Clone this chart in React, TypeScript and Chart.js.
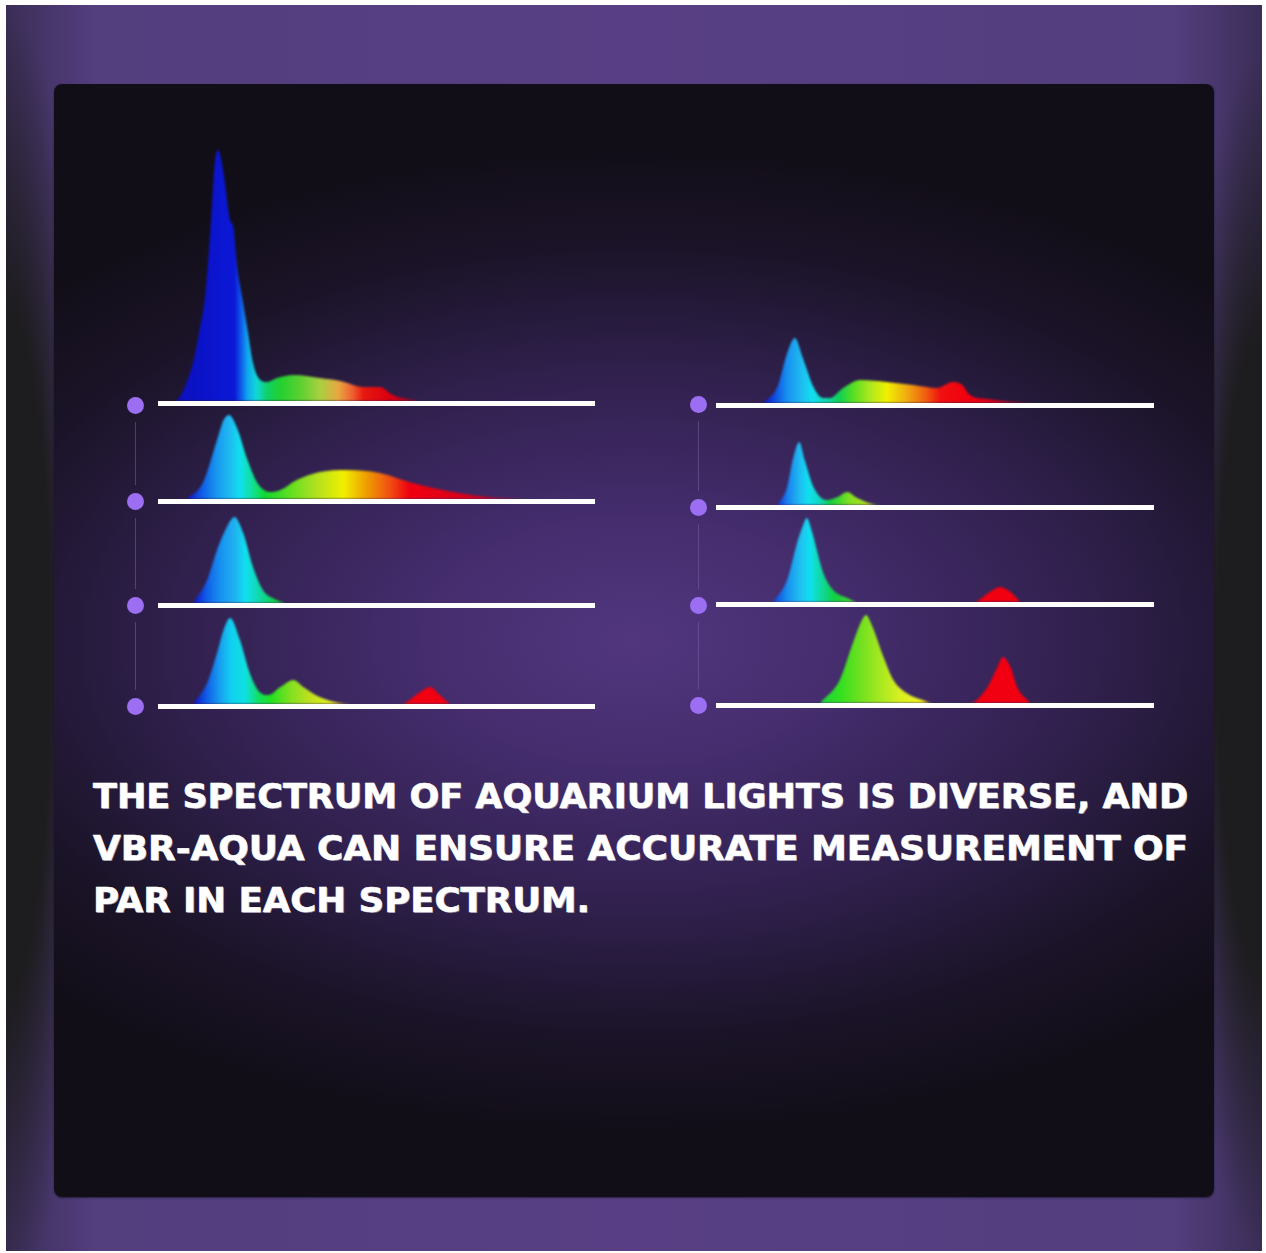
import React, { useEffect, useRef } from "react";
import { Chart, registerables } from "chart.js";

Chart.register(...registerables);

// ---------- DATA (wavelength nm, relative intensity with tallest peak = 100) ----------
const L1_WL = [396, 400, 406, 412, 418, 423, 428, 432, 435, 440, 446, 449, 452, 457, 462, 467, 472, 480, 489, 504, 528, 547, 568, 583, 595, 608, 620];
const L1_INT = [0, 1.6, 7.2, 15.1, 28.3, 41.4, 68.1, 94.8, 100, 90.8, 72.1, 69.3, 55.0, 41.4, 28.3, 15.1, 9.2, 7.6, 9.2, 10.4, 9.2, 8.0, 5.6, 5.6, 2.4, 0.8, 0];

const L2_WL = [406, 421, 434, 440, 445, 452, 462, 471, 483, 492, 507, 528, 553, 583, 613, 650, 681, 711];
const L2_INT = [0, 6.4, 23.5, 31.5, 33.5, 28.7, 15.5, 6.4, 2.8, 3.6, 7.6, 10.8, 11.6, 10.4, 6.4, 2.8, 0.8, 0];

const L3_WL = [412, 425, 434, 443, 450, 458, 467, 476, 489, 496];
const L3_INT = [0, 9.2, 21.1, 30.3, 34.3, 27.9, 14.3, 5.2, 1.2, 0];

const L4_WL = [412, 425, 434, 440, 446, 455, 464, 473, 481, 492, 504, 513, 528, 547, 559, 602, 620, 629, 638, 647];
const L4_INT = [0, 8.4, 20.3, 29.5, 34.3, 25.5, 12.4, 4.8, 3.6, 6.8, 9.6, 6.8, 2.8, 0.4, 0, 0, 4.8, 6.8, 3.6, 0];

const R1_WL = [423, 436, 445, 452, 459, 469, 478, 484, 496, 512, 536, 560, 582, 596, 605, 612, 628, 651, 667];
const R1_INT = [0, 6.4, 19.9, 25.9, 18.3, 6.4, 2.0, 2.0, 6.0, 9.2, 8.4, 7.2, 6.0, 8.4, 7.2, 3.2, 1.6, 0.4, 0];

const R2_WL = [436, 445, 450, 456, 461, 469, 481, 491, 500, 509, 523, 530];
const R2_INT = [0, 7.2, 17.9, 25.1, 17.9, 7.2, 2.0, 3.2, 5.2, 2.8, 0.4, 0];

const R3_WL = [432, 445, 454, 459, 463, 467, 478, 487, 500, 509, 615, 630, 639, 649, 658];
const R3_INT = [0, 8.8, 23.5, 30, 33.5, 29, 11.6, 4.8, 1.6, 0, 0, 4.0, 6.0, 4.0, 0];

const R4_WL = [475, 493, 505, 512, 517, 523, 533, 542, 554, 569, 578, 612, 628, 637, 642, 649, 655, 667];
const R4_INT = [0, 9.2, 23.9, 31.9, 35.1, 30.3, 18.3, 9.2, 4.0, 1.2, 0, 0, 6.4, 14.3, 18.3, 14.3, 6.4, 0];

const TEXT_LINES = [
  "THE SPECTRUM OF AQUARIUM LIGHTS IS DIVERSE, AND",
  "VBR-AQUA CAN ENSURE ACCURATE MEASUREMENT OF",
  "PAR IN EACH SPECTRUM.",
];

// ---------- STYLES ----------
type Stop = [number, string];
const G_L1: Stop[] = [[400, "#0c10c0"], [450, "#0b18d6"], [455, "#0e4ee8"], [462, "#10a8f0"], [470, "#10d8d8"], [480, "#10d068"], [492, "#22d030"], [510, "#5ad030"], [528, "#a8d040"], [545, "#e8a840"], [558, "#f06030"], [568, "#e81810"], [590, "#dc0010"], [615, "#b00020"]];
const G_L2: Stop[] = [[406, "#1010c8"], [421, "#1060e8"], [434, "#1898f0"], [445, "#20b8f0"], [455, "#10e0f0"], [469, "#10e080"], [478, "#10d830"], [501, "#60e020"], [524, "#b0e020"], [550, "#f0f000"], [570, "#f0a000"], [592, "#f05010"], [610, "#f00010"], [680, "#d00020"]];
const G_L3: Stop[] = [[412, "#1010c0"], [425, "#1060e8"], [437, "#1890f0"], [450, "#20b0f0"], [460, "#10e0f0"], [474, "#10d8a0"], [488, "#10d040"]];
const G_L4: Stop[] = [[412, "#1010c0"], [425, "#1060e8"], [437, "#18a0f0"], [447, "#10d0f0"], [460, "#10e0e0"], [472, "#10e060"], [483, "#20e020"], [501, "#80e020"], [519, "#c0e020"], [537, "#e0f020"], [580, "#f06010"], [605, "#f00010"], [650, "#f00010"]];
const G_R1: Stop[] = [[423, "#0c10c0"], [434, "#1050e0"], [445, "#1890f0"], [457, "#20b8f0"], [468, "#10e0f0"], [480, "#10d8b0"], [493, "#10d050"], [507, "#60e020"], [521, "#b0e820"], [536, "#f0f000"], [553, "#f0b010"], [571, "#f06010"], [585, "#f01010"], [610, "#f00010"], [650, "#d00020"]];
const G_R2: Stop[] = [[436, "#1030d0"], [445, "#1880f0"], [456, "#20b8f0"], [464, "#10e0f0"], [475, "#10d8c0"], [484, "#10d040"], [502, "#80e020"], [520, "#b8e020"]];
const G_R3: Stop[] = [[432, "#1040d8"], [445, "#1890f0"], [457, "#20c0f0"], [466, "#10e0f0"], [478, "#10d890"], [489, "#10d040"], [520, "#80e020"], [600, "#f00010"]];
const G_R4: Stop[] = [[475, "#20d040"], [493, "#30e020"], [512, "#70e020"], [530, "#a8e820"], [548, "#d8f020"], [566, "#f0f020"], [600, "#f00010"]];

const WL_MIN = 380;
const WL_MAX = 780;
const PX_PER_UNIT = 2.51;
const LINE_THICK = 5;

type Spec = { wl: number[]; val: number[]; stops: Stop[]; x: number; w: number; lineTop: number; plotH: number };

const SPECS: Spec[] = [
  { wl: L1_WL, val: L1_INT, stops: G_L1, x: 158, w: 437, lineTop: 401, plotH: 265 },
  { wl: L2_WL, val: L2_INT, stops: G_L2, x: 158, w: 437, lineTop: 499, plotH: 100 },
  { wl: L3_WL, val: L3_INT, stops: G_L3, x: 158, w: 437, lineTop: 603, plotH: 100 },
  { wl: L4_WL, val: L4_INT, stops: G_L4, x: 158, w: 437, lineTop: 704, plotH: 100 },
  { wl: R1_WL, val: R1_INT, stops: G_R1, x: 716, w: 438, lineTop: 403, plotH: 100 },
  { wl: R2_WL, val: R2_INT, stops: G_R2, x: 716, w: 438, lineTop: 505, plotH: 100 },
  { wl: R3_WL, val: R3_INT, stops: G_R3, x: 716, w: 438, lineTop: 602, plotH: 100 },
  { wl: R4_WL, val: R4_INT, stops: G_R4, x: 716, w: 438, lineTop: 703, plotH: 100 },
];

const DOTS_LEFT = { x: 135, ys: [405, 501, 605, 706] };
const DOTS_RIGHT = { x: 698, ys: [404, 507, 605, 705] };

const softBaselinePlugin = {
  id: "softBaseline",
  beforeDatasetsDraw(chart: any) {
    chart.ctx.save();
    chart.ctx.filter = "blur(0.9px)";
  },
  afterDatasetsDraw(chart: any) {
    const { ctx, chartArea, scales } = chart;
    ctx.restore();
    const x0 = scales.x.getPixelForValue(WL_MIN);
    const x1 = scales.x.getPixelForValue(WL_MAX);
    ctx.save();
    ctx.fillStyle = "#ffffff";
    ctx.fillRect(x0, chartArea.bottom, x1 - x0, LINE_THICK);
    ctx.restore();
  },
};

function SpectrumChart({ spec }: { spec: Spec }) {
  const ref = useRef<HTMLCanvasElement>(null);
  useEffect(() => {
    const canvas = ref.current!;
    const chart = new Chart(canvas, {
      type: "line",
      data: {
        datasets: [
          {
            data: spec.wl.map((x, i) => ({ x, y: spec.val[i] })),
            fill: "origin",
            borderWidth: 0,
            borderColor: "rgba(0,0,0,0)",
            pointRadius: 0,
            cubicInterpolationMode: "monotone",
            backgroundColor: (c: any) => {
              const ch = c.chart;
              const area = ch.chartArea;
              if (!area) return "rgba(0,0,0,0)";
              const xs = ch.scales.x;
              const l = xs.getPixelForValue(WL_MIN);
              const r = xs.getPixelForValue(WL_MAX);
              const g = ch.ctx.createLinearGradient(l, 0, r, 0);
              spec.stops.forEach(([nm, col]) => {
                g.addColorStop(Math.min(1, Math.max(0, (nm - WL_MIN) / (WL_MAX - WL_MIN))), col);
              });
              return g;
            },
          } as any,
        ],
      },
      options: {
        responsive: false,
        maintainAspectRatio: false,
        animation: false,
        devicePixelRatio: 1,
        layout: { padding: { left: 0, right: 0, top: 0, bottom: 6 } },
        plugins: { legend: { display: false }, tooltip: { enabled: false } },
        events: [],
        scales: {
          x: { type: "linear", min: WL_MIN, max: WL_MAX, display: false },
          y: { type: "linear", min: 0, max: spec.plotH / PX_PER_UNIT, display: false },
        },
      },
      plugins: [softBaselinePlugin],
    });
    return () => chart.destroy();
  }, [spec]);
  return (
    <canvas
      ref={ref}
      width={spec.w}
      height={spec.plotH + 6}
      style={{ position: "absolute", left: spec.x, top: spec.lineTop - spec.plotH, width: spec.w, height: spec.plotH + 6 }}
    />
  );
}

const FONT_SIZE = 34;
const FONT_FAMILY = '"DejaVu Sans", "Liberation Sans", sans-serif';
const TEXT_TARGETS = [1095, 1095, 497];

function scaleFor(text: string, target: number) {
  try {
    const c = document.createElement("canvas");
    const ctx = c.getContext("2d")!;
    ctx.font = `bold ${FONT_SIZE}px ${FONT_FAMILY}`;
    const w = ctx.measureText(text).width;
    return target / w;
  } catch {
    return 1;
  }
}

function Dots({ x, ys }: { x: number; ys: number[] }) {
  return (
    <>
      {ys.map((y, i) => (
        <div
          key={"d" + i}
          style={{ position: "absolute", left: x - 8.5, top: y - 8.5, width: 17, height: 17, borderRadius: "50%", background: "#9b6ef2" }}
        />
      ))}
      {ys.slice(0, -1).map((y, i) => (
        <div
          key={"c" + i}
          style={{ position: "absolute", left: x - 0.5, top: y + 17, width: 1, height: ys[i + 1] - y - 33, background: "rgba(120,100,160,0.5)" }}
        />
      ))}
    </>
  );
}

export default function App() {
  return (
    <div style={{ position: "absolute", left: 0, top: 0, width: 1266, height: 1253, background: "#ffffff", overflow: "hidden" }}>
      <div
        style={{
          position: "absolute",
          left: 6,
          top: 5,
          width: 1256,
          height: 1246,
          background:
            "radial-gradient(ellipse 85px 650px at 0% 52%, #1d1c1e 52%, rgba(29,28,30,0) 100%)," +
            "radial-gradient(ellipse 85px 600px at 100% 52%, #1d1c1e 52%, rgba(29,28,30,0) 100%)," +
            "linear-gradient(to right, #3b2e57 0%, #533e7e 7%, #583f85 50%, #533e7e 93%, #3b2e57 100%)",
        }}
      />
      <div
        style={{
          position: "absolute",
          left: 54,
          top: 84,
          width: 1160,
          height: 1113,
          borderRadius: 8,
          background:
            "radial-gradient(ellipse 72% 44% at 50% 50%, #51367e 0%, #452d6e 25%, #30204d 55%, #1b1429 80%, #120e18 100%)",
          boxShadow: "0 1px 2px rgba(0,0,0,0.5)",
        }}
      />
      <Dots x={DOTS_LEFT.x} ys={DOTS_LEFT.ys} />
      <Dots x={DOTS_RIGHT.x} ys={DOTS_RIGHT.ys} />
      {SPECS.map((s, i) => (
        <SpectrumChart key={i} spec={s} />
      ))}
      <div style={{ position: "absolute", left: 93, top: 770, color: "#ffffff", fontFamily: FONT_FAMILY, fontWeight: 700, fontSize: FONT_SIZE, lineHeight: "52px" }}>
        {TEXT_LINES.map((t, i) => (
          <div
            key={i}
            style={{
              whiteSpace: "nowrap",
              transform: `scaleX(${scaleFor(t, TEXT_TARGETS[i])})`,
              transformOrigin: "0 0",
              WebkitTextStroke: "0.6px #ffffff",
              textShadow: "1px 1px 0 rgba(160,158,172,0.75)",
            }}
          >
            {t}
          </div>
        ))}
      </div>
    </div>
  );
}
